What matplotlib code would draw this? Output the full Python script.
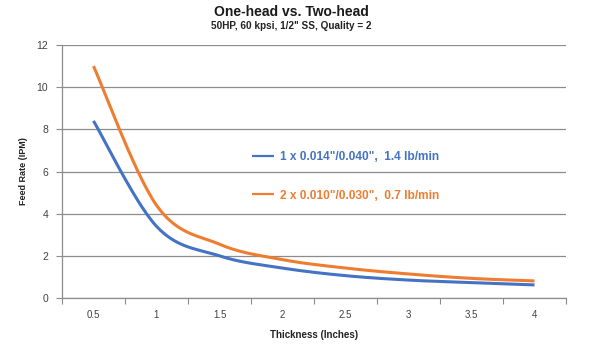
import matplotlib
matplotlib.use("Agg")
import matplotlib.pyplot as plt
import numpy as np

plt.rcParams["font.family"] = ["Liberation Sans", "DejaVu Sans"]

# data
thickness = ["0.5", "1", "1.5", "2", "2.5", "3", "3.5", "4"]
one_head = [8.4, 3.4, 2.0, 1.42, 1.06, 0.85, 0.73, 0.62]
two_head = [11.0, 4.4, 2.55, 1.82, 1.42, 1.14, 0.93, 0.81]

BLUE = "#4472C4"
ORANGE = "#ED7D31"
GRID = "#8C8C8C"
TXT = "#404040"


def smooth(xs, ys, n=30):
    """Excel-style smoothed line (Catmull-Rom bezier) through the points."""
    p = np.column_stack([xs, ys]).astype(float)
    pts = np.vstack([p[0], p, p[-1]])
    out = []
    t = np.linspace(0, 1, n)[:, None]
    for i in range(1, len(pts) - 2):
        p0, p1, p2, p3 = pts[i - 1], pts[i], pts[i + 1], pts[i + 2]
        c1 = p1 + (p2 - p0) / 6.0
        c2 = p2 - (p3 - p1) / 6.0
        seg = ((1 - t) ** 3) * p1 + 3 * ((1 - t) ** 2) * t * c1 \
            + 3 * (1 - t) * t ** 2 * c2 + t ** 3 * p2
        out.append(seg if i == 1 else seg[1:])
    seg = np.vstack(out)
    return seg[:, 0], seg[:, 1]


fig = plt.figure(figsize=(6.0, 3.51), dpi=100)
ax = fig.add_axes([62 / 600, 1 - 298 / 351, (566 - 62) / 600, (298 - 45) / 351])

xpos = np.arange(len(thickness)) + 0.5
for vals, col, lab in [(one_head, BLUE, "1 x 0.014\"/0.040\",  1.4 lb/min"),
                       (two_head, ORANGE, "2 x 0.010\"/0.030\",  0.7 lb/min")]:
    sx, sy = smooth(xpos, vals)
    ax.plot(sx, sy, color=col, linewidth=2.2, label=lab, solid_capstyle="butt")

ax.set_xlim(0, len(thickness))
ax.set_ylim(0, 12)
ax.set_yticks(np.arange(0, 13, 2))
ax.yaxis.grid(True, color=GRID, linewidth=0.9)
ax.set_axisbelow(True)

ax.set_xticks(np.arange(0, len(thickness) + 1))
ax.set_xticklabels([])
ax.set_xticks(xpos, minor=True)
ax.set_xticklabels(thickness, minor=True)
ax.tick_params(axis="x", which="major", length=4, color=GRID, direction="out")
ax.tick_params(axis="x", which="minor", length=0, pad=9, labelsize=7, labelcolor=TXT)
ax.tick_params(axis="y", length=4, color=GRID, labelsize=7.5, labelcolor=TXT, pad=6)

for s in ["top", "right"]:
    ax.spines[s].set_visible(False)
for s in ["left", "bottom"]:
    ax.spines[s].set_color(GRID)
    ax.spines[s].set_linewidth(0.9)

ax.set_xlabel("Thickness (Inches)", fontsize=7, fontweight="bold", color="#222222", labelpad=7)
ax.set_ylabel("Feed Rate (IPM)", fontsize=6.5, fontweight="bold", color="#222222", labelpad=6)

leg = ax.legend(loc="upper left", bbox_to_anchor=(0.356, 0.622), frameon=False,
                handlelength=1.8, handletextpad=0.5, labelspacing=2.2,
                labelcolor="linecolor", prop={"weight": "bold", "size": 8.6})
for line in leg.get_lines():
    line.set_linewidth(1.6)

fig.text(0.485, 1 - 12 / 351, "One-head vs. Two-head", ha="center", va="center",
         fontsize=10, fontweight="bold", color="#1a1a1a")
fig.text(0.485, 1 - 26 / 351, "50HP, 60 kpsi, 1/2\" SS, Quality = 2", ha="center", va="center",
         fontsize=7.2, fontweight="bold", color="#222222")

fig.savefig("out.png", dpi=100)
